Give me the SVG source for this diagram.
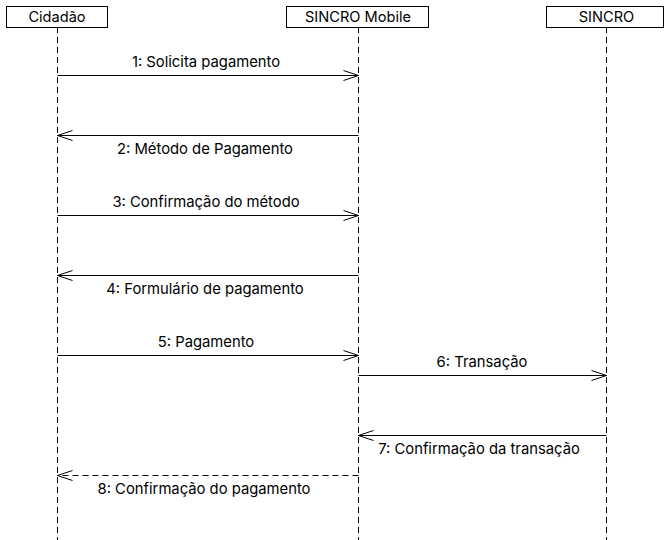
<svg xmlns="http://www.w3.org/2000/svg" width="672" height="540" viewBox="0 0 672 540">
<style>
.box{fill:#fff;stroke:#000;stroke-width:1}
.life{stroke:#000;stroke-width:1;stroke-dasharray:6 4;fill:none}
.msg{stroke:#000;stroke-width:1;fill:none}
.ret{stroke:#000;stroke-width:1;fill:none;stroke-dasharray:6 4}
.head{stroke:#000;stroke-width:1;fill:none}
.hd{font-family:Inter,"Liberation Sans",sans-serif;font-size:14.6px;text-anchor:middle;fill:#000}
.lb{font-family:Inter,"Liberation Sans",sans-serif;font-size:14.8px;text-anchor:middle;fill:#000}
</style>
<rect width="672" height="540" fill="#fff"/>
<g id="lifelines">
<line class="life" x1="57.5" y1="27" x2="57.5" y2="540"/>
<line class="life" x1="358.5" y1="27" x2="358.5" y2="540"/>
<line class="life" x1="606.5" y1="27" x2="606.5" y2="540"/>
</g>
<g id="cidadao"><rect class="box" x="6.5" y="6.5" width="101" height="21"/><text class="hd" x="57" y="22">Cidadão</text></g>
<g id="sincro-mobile"><rect class="box" x="286.5" y="6.5" width="142" height="21"/><text class="hd" x="358" y="22">SINCRO Mobile</text></g>
<g id="sincro"><rect class="box" x="546.5" y="6.5" width="117" height="21"/><text class="hd" x="606.5" y="22">SINCRO</text></g>
<g id="connectors">
<line class="msg" x1="57.5" y1="75.5" x2="358.5" y2="75.5"/><polyline class="head" points="343.5,70.5 358.5,75.5 343.5,80.5"/>
<text class="lb" x="206" y="67">1: Solicita pagamento</text>
<line class="msg" x1="358.5" y1="135.5" x2="57.5" y2="135.5"/><polyline class="head" points="72.5,130.5 57.5,135.5 72.5,140.5"/>
<text class="lb" x="205" y="154">2: Método de Pagamento</text>
<line class="msg" x1="57.5" y1="215.5" x2="358.5" y2="215.5"/><polyline class="head" points="343.5,210.5 358.5,215.5 343.5,220.5"/>
<text class="lb" x="206" y="207">3: Confirmação do método</text>
<line class="msg" x1="358.5" y1="275.5" x2="57.5" y2="275.5"/><polyline class="head" points="72.5,270.5 57.5,275.5 72.5,280.5"/>
<text class="lb" x="205" y="294">4: Formulário de pagamento</text>
<line class="msg" x1="57.5" y1="355.5" x2="358.5" y2="355.5"/><polyline class="head" points="343.5,350.5 358.5,355.5 343.5,360.5"/>
<text class="lb" x="206" y="347">5: Pagamento</text>
<line class="msg" x1="358.5" y1="375.5" x2="606.5" y2="375.5"/><polyline class="head" points="591.5,370.5 606.5,375.5 591.5,380.5"/>
<text class="lb" x="482" y="367">6: Transação</text>
<line class="msg" x1="606.5" y1="435.5" x2="358.5" y2="435.5"/><polyline class="head" points="373.5,430.5 358.5,435.5 373.5,440.5"/>
<text class="lb" x="479" y="454">7: Confirmação da transação</text>
<line class="ret" x1="358.5" y1="475.5" x2="57.5" y2="475.5"/><polyline class="head" points="72.5,470.5 57.5,475.5 72.5,480.5"/>
<text class="lb" x="204" y="494">8: Confirmação do pagamento</text>
</g>
</svg>
